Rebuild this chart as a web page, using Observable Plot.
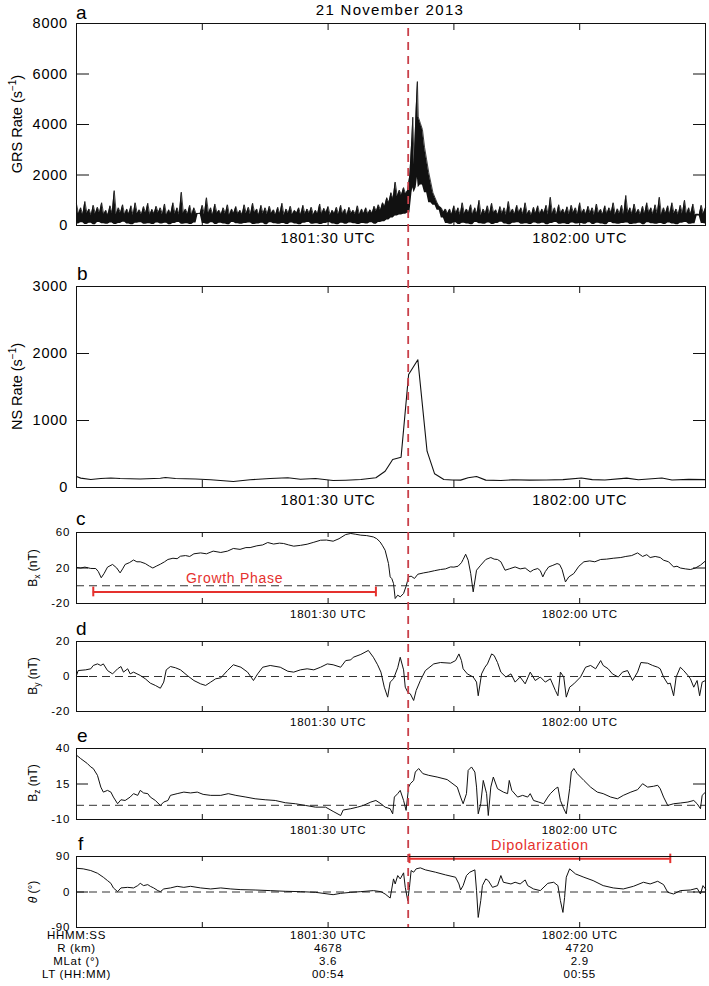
<!DOCTYPE html>
<html><head><meta charset="utf-8">
<script src="https://cdn.jsdelivr.net/npm/d3@7"></script>
<script src="https://cdn.jsdelivr.net/npm/@observablehq/plot@0.6"></script>
<style>
html,body{margin:0;padding:0;background:#fff;}
#fig{position:relative;width:709px;height:986px;overflow:hidden;background:#fff;}
#fig svg{position:absolute;left:0;overflow:visible;}
</style></head><body><div id="fig"></div>
<script>
// ---------- data (time in seconds after 18:01:00 UTC, 21 Nov 2013) ----------
const titleText = "21 November 2013";
const xTickMarks = [15, 30, 45, 60];
const xLabelTimes = [30, 60];
const xLabelTexts = ["1801:30 UTC", "1802:00 UTC"];
const onsetTime = 39.55;
const growthSpan = [2.0, 35.7];
const dipolSpan = [39.7, 70.8];

const grsTicks = [0, 2000, 4000, 6000, 8000];
const nsTicks = [0, 1000, 2000, 3000];
const bxTicks = [-20, 20, 60];
const byTicks = [-20, 0, 20];
const bzTicks = [-10, 15, 40];
const thTicks = [-90, 0, 90];

// GRS rate: spike tops every 0.5 s (t = i*0.5)
const grsHigh = [850,700,950,650,800,720,900,600,780,1380,
 700,820,650,780,900,620,750,880,640,760,
 700,850,620,900,700,1320,650,800,700,480,
 800,1100,700,850,600,700,820,650,750,600,
 820,720,880,650,800,700,760,620,720,880,
 650,760,600,700,800,650,720,600,850,680,
 750,600,720,800,650,720,600,780,650,700,
 620,760,820,900,1100,1300,1720,1400,1500,1400,
 3500,4600,4050,3100,2100,1300,900,700,650,650,
 780,700,900,650,820,700,1000,650,780,880,
 620,750,700,950,650,800,700,900,600,720,
 780,650,800,1120,700,820,650,740,800,700,
 900,650,760,700,850,640,780,700,900,660,
 800,1190,700,850,640,760,900,700,820,1120,
 700,780,900,650,800,1000,700,850,450,800,700];
// GRS rate: upper edge between spikes (t = i*0.5 + 0.25)
const grsTrough = [450,420,480,400,460,500,430,410,470,440,
 490,420,450,400,470,430,480,410,460,500,
 430,400,470,450,420,480,440,410,470,480,
 440,470,410,490,430,460,400,480,450,420,
 470,430,500,410,460,440,480,420,450,400,
 470,430,490,410,450,480,420,460,440,500,
 410,470,430,450,400,480,440,420,470,450,
 480,550,600,750,900,1050,1150,1200,1250,2000,
 2400,4300,3800,2600,1700,1100,750,520,470,430,
 480,410,460,500,420,450,400,470,440,490,
 420,460,410,480,440,500,430,450,400,470,
 440,490,420,460,410,480,450,430,500,420,
 460,440,480,410,470,430,450,490,420,460,
 400,480,440,470,420,450,500,430,460,410,
 480,440,470,420,460,430,450,420,430,460];
// GRS rate: lower edge of the trace (t = i*0.5)
const grsLow = [60,110,40,90,30,120,70,50,100,40,
 80,130,60,30,90,110,50,70,40,100,
 60,90,30,80,120,50,70,40,100,450,
 80,50,110,40,90,60,30,120,70,50,
 80,100,40,60,90,30,110,70,50,80,
 40,100,60,30,90,120,50,70,40,80,
 110,60,30,90,50,100,70,40,80,60,
 110,50,120,150,220,300,380,420,450,500,
 1300,1500,1600,1300,900,800,600,300,80,50,
 110,40,90,60,30,120,70,50,100,40,
 80,130,60,30,90,110,50,70,40,100,
 60,90,30,80,120,50,70,40,100,60,
 80,50,110,40,90,60,30,120,70,50,
 80,100,40,60,90,30,110,70,50,80,
 40,100,60,30,90,120,50,70,380,80,60];
// extra samples at the two burst maxima
const grsPeakTime = [40.1, 40.65];
const grsPeakHigh = [4290, 5700];
const grsPeakLow  = [1500, 1900];

// NS rate
const nsData = [[0,164],[0.5,140],[1.7,119],[2.9,134],[4.1,142],[5.2,134],[7.6,127],[10,139],[10.6,149],
 [11.8,134],[14.2,127],[16,115],[18.7,90],[20.7,115],[23.1,134],[25.2,145],[26.7,124],[28.5,134],
 [30.6,104],[32.1,109],[33.9,119],[35.7,145],[36.8,243],[37.7,418],[38.7,452],[39.6,1687],[40.7,1906],
 [41.8,542],[42.7,204],[43.8,120],[44.8,112],[45.8,110],[46.7,145],[47.7,164],[48.8,110],[50.6,104],
 [52,115],[54,110],[56,112],[58,118],[60.2,142],[61.5,118],[63,112],[65.6,140],[67,115],[69.8,142],
 [71,112],[73,122],[75,118]];

// Bx (nT)
const bxData = [[0,20.6],[0.5,20],[1,21],[1.7,19.5],[2.3,19.4],[2.6,16],[2.95,9],[3.3,14],[3.7,21],[4.3,24],
 [4.8,20],[5.2,14.5],[5.5,19],[5.8,24],[6.3,26],[6.8,29],[7.2,27],[7.6,27],[8.2,25],[8.7,22],[9.1,20],
 [9.5,22],[10,24.3],[10.5,27],[10.9,29.6],[11.5,31],[12,30.5],[12.4,33.3],[13,34],[13.5,33],[14,36],
 [14.8,37],[15.5,36],[16.3,39],[17.2,37.5],[18,39],[18.7,42],[19.5,41],[20.2,43],[20.7,43],[21.5,45],
 [22.2,46],[22.8,48.7],[23.5,47],[24.2,48],[24.7,47.6],[25.3,46],[25.9,44.6],[26.7,45.5],[27.5,46.8],
 [28.3,49],[29.1,51.3],[29.8,51.5],[30.6,50.2],[31.3,53],[32.1,57.7],[32.7,58.9],[33.3,58],[33.9,57],
 [34.6,56.5],[35.4,55],[35.8,53],[36.2,49.4],[36.5,45],[36.8,40],[37.2,25],[37.4,10],[37.6,8],[37.8,2.5],
 [38.0,-14.4],[38.3,-10.6],[38.6,-12.5],[39.0,-8.7],[39.3,-0.5],[39.6,10],[39.9,10.8],[40.3,8.2],[40.7,13],
 [41.4,14.5],[42,15.5],[42.7,17],[43.4,18.3],[44,19],[44.6,21.2],[45,21],[45.5,22],[45.9,26],[46.1,29.6],
 [46.4,35.5],[46.7,28.8],[47,14],[47.3,-6.9],[47.7,17.5],[48.2,23.2],[48.8,29.6],[49.4,31.8],[49.8,30],
 [50.2,29.6],[50.6,27],[51.1,17.5],[51.6,19],[52.3,21.2],[52.9,19],[53.5,20],[54.1,15.6],[54.5,18],
 [55.0,19.4],[55.3,17],[55.6,10],[55.9,16],[56.3,21.2],[56.8,23],[57.3,25],[57.6,24],[57.9,18.3],
 [58.3,4.3],[58.7,10],[59.3,13.8],[59.9,22],[60.5,27],[61.2,28],[61.8,27],[62.5,29.6],[63.2,30],[64,31],
 [64.9,31.8],[65.5,33],[66.2,34],[66.9,37],[67.5,33],[68,35],[68.4,31.8],[69,33],[69.6,31.8],[70,28.8],
 [70.6,27],[71.2,21.2],[71.6,22],[72,20],[72.6,19],[73.2,18.3],[73.8,20],[74.4,23.2],[75,28]];

// By (nT)
const byData = [[0,0.6],[0.2,3.4],[1.1,3.8],[1.7,4.4],[2,6.3],[2.5,7.2],[2.9,6.3],[3.2,7.2],[3.7,3.4],[4.3,1.5],
 [4.9,4.4],[5.3,5.7],[5.6,2.5],[6.1,4.4],[6.4,1.5],[6.8,2.5],[7.6,0.6],[8.2,-1.3],[8.8,-3.8],[9.4,-5.1],
 [10,-6.7],[10.4,-3.2],[10.7,3.8],[11.2,5.7],[11.8,5],[12.4,3.8],[13.2,0.6],[14,-2.3],[14.8,-4.2],[15.4,-5.1],
 [16,-3.2],[16.6,-1.3],[17.2,-0.8],[18,3.4],[18.7,6.7],[19.6,5.3],[20.4,2.5],[21.1,-2.3],[21.6,1.5],[22.2,5.3],
 [23.1,6.3],[24.3,5.3],[25.2,3],[25.9,2.5],[26.7,3.8],[27.5,4.4],[28.3,3.8],[29.1,5.3],[29.9,7.2],[30.6,6.7],
 [31.5,5.3],[32.1,9.1],[32.7,9.5],[33,11],[33.9,12.6],[34.8,14.9],[35.4,11],[35.9,6.7],[36.3,2.5],[36.7,-6.1],
 [37.1,-11.8],[37.4,-3.2],[37.8,-1.3],[38.3,5],[38.6,11],[39,3.8],[39.2,-6.1],[39.5,-9],[39.8,-9.9],[40.2,-13.7],
 [40.5,-8],[41,-2.3],[41.6,3.4],[42.6,7.2],[43.4,8],[44.6,7.6],[45.2,9.1],[45.6,12.9],[45.9,9.1],[46.1,4.4],
 [46.6,1.5],[47.3,-0.3],[47.7,-3.2],[47.9,-11],[48.3,1.5],[48.7,5.3],[49,7.2],[49.5,12.9],[49.8,12],[50.2,8],
 [50.6,2.5],[51.2,-0.3],[51.8,1.5],[52.3,-3.2],[52.9,-0.3],[53.5,-4.2],[54.1,2.5],[54.7,-2.3],[55.3,-0.3],
 [55.9,-3.2],[56.5,-1.3],[57.1,-8],[57.4,-11],[57.7,2.5],[58.1,-0.3],[58.4,-11.8],[58.8,-6.1],[59.3,-4.2],
 [60.1,-0.3],[60.7,5.3],[61.3,6.3],[61.9,4.4],[62.5,9.1],[62.8,6.3],[63.4,4.4],[63.9,1.5],[64.6,-0.3],
 [65.1,2.5],[65.7,3.4],[66.3,-2.3],[66.9,2.5],[67.3,8],[68.1,7.6],[68.7,6.3],[69.3,5.3],[69.6,4.4],[70,-0.3],
 [70.5,-4.2],[70.8,-3.8],[71.2,-11],[71.5,-0.3],[72,5.3],[72.4,3.4],[72.9,0.6],[73.2,-1.3],[73.6,-6.1],
 [74,-2.3],[74.3,-11],[74.6,-3.2],[75,-2.3]];

// Bz (nT)
const bzData = [[0,35.3],[0.5,32.9],[1.3,29.4],[1.7,27],[2,25.9],[2.5,21.1],[2.9,12.8],[3.2,9.3],[3.7,10.5],
 [4.1,9.3],[4.4,5.8],[4.9,1.1],[5.3,3.9],[5.8,3.4],[6.4,5.8],[6.8,8.2],[7.3,7],[7.6,10.5],[8,8.7],[8.5,8.2],
 [8.8,5.8],[9.4,3.4],[10,-0.1],[10.4,2.3],[10.9,3.4],[11.2,7],[12,8.2],[12.8,9.3],[13.6,8.7],[14.4,9.3],
 [15.1,7.7],[16,7],[17.2,7],[18.1,8.2],[19,7],[20.2,5.8],[21.3,4.6],[22.5,3.9],[23.7,3.4],[24.9,1.8],
 [26.1,1.1],[27.3,-0.1],[28.5,-1.3],[29.7,-1.3],[30.6,-4.3],[31.5,-7.2],[31.8,-3.3],[32.7,-2.4],[33.5,-1.3],
 [34.2,-0.1],[35.1,2.3],[35.7,3.4],[36.3,1.1],[36.8,-1.3],[37.4,-2.4],[37.7,-6],[37.9,5.8],[38.3,8.2],
 [38.6,10.5],[39,3.4],[39.3,-3.6],[39.6,12.8],[39.8,15.2],[40.2,17.5],[40.4,23.4],[40.8,25.9],[41.3,22.3],
 [42,21.1],[43,19.9],[44.2,18.1],[45.4,12.8],[45.8,5.8],[46.1,1.1],[46.5,8.2],[46.7,24.6],[47.1,27],
 [47.5,23.4],[47.7,12.8],[47.9,-6],[48.2,1.1],[48.5,17.5],[48.9,8.2],[49.1,-7.2],[49.4,12.8],[49.7,19.9],
 [50.2,11.7],[50.9,9.3],[51.4,8.2],[51.6,17.5],[51.9,10.5],[52.6,5.8],[53.2,7],[53.8,5.8],[54.1,8.2],
 [54.5,3.4],[55.1,2.3],[55.7,1.1],[56.2,5.8],[56.5,8.2],[57.1,11.7],[57.4,12.8],[57.7,3.4],[58.1,-2.4],
 [58.4,-6],[58.8,11.7],[59,23.4],[59.3,25.9],[59.7,22.3],[60.5,17.5],[61.3,12.8],[62.1,9.3],[62.8,8.2],
 [63.7,5.8],[64.5,4.6],[65.2,7],[66.1,9.3],[66.9,11],[67.5,15.2],[68.1,12.8],[68.8,13.4],[69.3,14.1],
 [69.6,11.7],[70,5.8],[70.5,-0.1],[71.2,1.1],[72,1.6],[72.9,2.3],[73.6,3.4],[74,1.1],[74.4,-2.4],[74.6,7],[75,9.3]];

// theta (deg)
const thData = [[0,60.2],[0.8,58.7],[1.7,54.4],[2.5,47.6],[3.2,37.4],[3.7,28.9],[4.1,22],[4.4,10.3],[4.9,0.9],
 [5.3,10.3],[6.1,11.8],[6.8,10.3],[7.3,16.2],[7.6,22],[8,16.2],[8.5,18.7],[8.8,14.4],[9.2,10.3],[9.7,3.5],
 [10,0.9],[10.4,7.7],[11.2,10.3],[12,14.4],[12.8,11.8],[13.6,14.4],[14.8,10.3],[16,7.7],[17.2,10.3],[18.4,7.7],
 [19.6,6],[21.3,5.1],[23.1,3.5],[24.9,1.8],[26.7,0.9],[28.5,-0.8],[30.6,-6.8],[31.5,-3.4],[32.7,-0.8],
 [33.9,0.9],[35.4,3.5],[36.3,0.9],[36.8,-5.1],[37.4,-15.3],[37.8,33.2],[38,20.4],[38.3,41.7],[38.6,33.2],
 [39,48.6],[39.2,11.8],[39.5,-22],[39.7,11.8],[39.9,54.4],[40.2,50.2],[40.5,58.7],[41,61.2],[41.6,56.1],
 [42.8,50.2],[44,43.4],[45.2,37.4],[45.6,20.4],[45.8,5.1],[46.1,16.2],[46.5,41.7],[46.9,50.2],[47.5,56.1],
 [47.7,3.5],[47.9,-64.5],[48.2,-22],[48.4,16.2],[48.8,33.2],[49.1,28.9],[49.6,11.8],[50.2,16.2],[50.6,41.7],
 [50.9,24.7],[51.8,20.4],[52.3,24.7],[52.9,20.4],[53.5,30.6],[53.8,16.2],[54.5,7.7],[55.3,3.5],[56.2,22],
 [56.9,24.7],[57.4,16.2],[57.7,-22],[58,-51.8],[58.2,-13.6],[58.4,37.4],[58.8,58.7],[59.5,45.9],[60.5,37.4],
 [61.6,28.9],[62.8,16.2],[64,10.3],[65.2,7.7],[66.4,14.4],[67.6,24.7],[68.4,20.4],[69.3,27.2],[70,18.7],
 [70.5,-0.8],[71.2,-5.1],[72,3.5],[73.2,5.1],[74,9.4],[74.4,-5.1],[74.7,16.2],[75,7.7]];

// ephemeris table under the last panel
const tableRowLabels = ["HHMM:SS", "R (km)", "MLat (°)", "LT (HH:MM)"];
const tableCol1 = ["1801:30 UTC", "4678", "3.6", "00:54"];
const tableCol2 = ["1802:00 UTC", "4720", "2.9", "00:55"];

// ---------- drawing ----------
const FONT = '"Liberation Sans", Arial, Helvetica, sans-serif';
const RED = "#e5312e";
const INK = "#111";
const fig = document.getElementById("fig");
const W = 709, ML = 76, MR = 4, PW = W - ML - MR;

// assemble GRS samples (spike tops, troughs between them, burst maxima)
const grsRows = [];
grsHigh.forEach((v, i) => grsRows.push({t: i * 0.5, hi: v, lo: grsLow[i]}));
grsTrough.forEach((v, i) => grsRows.push({t: i * 0.5 + 0.25, hi: v, lo: grsLow[i]}));
grsPeakTime.forEach((t, i) => grsRows.push({t, hi: grsPeakHigh[i], lo: grsPeakLow[i]}));
grsRows.sort((a, b) => a.t - b.t);

function panel(o) {
  const mt = o.mt, mb = o.mb;
  const marks = [
    ...o.marks,
    Plot.frame({stroke: INK, strokeWidth: 1}),
    Plot.tickX(xTickMarks, {x: d => d, insetBottom: o.h - o.xt, stroke: INK}),
    Plot.tickX(xTickMarks, {x: d => d, insetTop: o.h - o.xt, stroke: INK}),
    Plot.tickY(o.tickMarks, {y: d => d, insetRight: PW - o.ytL, stroke: INK}),
    Plot.tickY(o.tickMarks, {y: d => d, insetLeft: PW - o.ytR, stroke: INK})
  ];
  const svg = Plot.plot({
    width: W, height: mt + o.h + mb,
    marginLeft: ML, marginRight: MR, marginTop: mt, marginBottom: mb,
    style: {fontFamily: FONT, fontSize: o.fs + "px", letterSpacing: o.ls + "px",
            background: "transparent", overflow: "visible", color: "#000"},
    x: {domain: [0, 75], ticks: xLabelTimes, tickSize: 0, tickPadding: o.padX,
        tickFormat: d => xLabelTexts[xLabelTimes.indexOf(d)], label: null,
        axis: o.xAxis === false ? null : "bottom"},
    y: {domain: o.ydom, ticks: o.yTicks, tickSize: 0, tickPadding: o.padY,
        tickFormat: d => String(d), label: null},
    marks
  });
  svg.style.top = (o.top - mt) + "px";
  fig.appendChild(svg);
  return svg;
}
const zeroLine = () => Plot.ruleY([0], {stroke: "#333", strokeWidth: 1, strokeDasharray: "8,5"});

// a: GRS rate
panel({top: 23, h: 202, mt: 23, mb: 30, ydom: [0, 8000], yTicks: grsTicks, tickMarks: [2000, 4000, 6000],
  fs: 14.5, ls: 0.8, padX: 7.5, padY: 8.5, xt: 7, ytL: 13, ytR: 12,
  marks: [
    Plot.areaY(grsRows, {x: "t", y1: "lo", y2: "hi", fill: INK}),
    Plot.lineY(grsRows, {x: "t", y: "hi", stroke: INK, strokeWidth: 0.8})
  ]});

// b: NS rate
panel({top: 286, h: 201, mt: 20, mb: 30, ydom: [0, 3000], yTicks: nsTicks, tickMarks: [1000, 2000],
  fs: 14.5, ls: 0.8, padX: 7.5, padY: 8.5, xt: 7, ytL: 13, ytR: 12,
  marks: [Plot.line(nsData, {x: d => d[0], y: d => d[1], stroke: INK, strokeWidth: 1.1})]});

// c: Bx
panel({top: 532, h: 71, mt: 20, mb: 30, ydom: [-20, 60], yTicks: bxTicks, tickMarks: [20],
  fs: 11.5, ls: 0.7, padX: 6.3, padY: 6.5, xt: 5, ytL: 12, ytR: 12,
  marks: [
    zeroLine(),
    Plot.line(bxData, {x: d => d[0], y: d => d[1], stroke: INK, strokeWidth: 1}),
    Plot.ruleY([growthSpan], {x1: d => d[0], x2: d => d[1], y: () => -7, stroke: RED, strokeWidth: 2}),
    Plot.ruleX(growthSpan, {x: d => d, y1: () => -12.5, y2: () => -1.5, stroke: RED, strokeWidth: 2}),
    Plot.text(["Growth Phase"], {x: () => (growthSpan[0] + growthSpan[1]) / 2, y: () => 8,
      fill: RED, fontSize: 14, text: d => d})
  ]});

// d: By
panel({top: 641, h: 70, mt: 20, mb: 30, ydom: [-20, 20], yTicks: byTicks, tickMarks: [0],
  fs: 11.5, ls: 0.7, padX: 6.3, padY: 6.5, xt: 5, ytL: 12, ytR: 12,
  marks: [zeroLine(), Plot.line(byData, {x: d => d[0], y: d => d[1], stroke: INK, strokeWidth: 1})]});

// e: Bz
panel({top: 748, h: 71, mt: 20, mb: 30, ydom: [-10, 40], yTicks: bzTicks, tickMarks: [15],
  fs: 11.5, ls: 0.7, padX: 6.3, padY: 6.5, xt: 5, ytL: 12, ytR: 12,
  marks: [zeroLine(), Plot.line(bzData, {x: d => d[0], y: d => d[1], stroke: INK, strokeWidth: 1})]});

// f: theta + ephemeris table
const tableMarks = [];
[tableRowLabels, tableCol1, tableCol2].forEach((col, ci) => {
  const xpos = [0, xLabelTimes[0], xLabelTimes[1]][ci];
  col.forEach((txt, ri) => {
    tableMarks.push(Plot.text([txt], {x: () => xpos, frameAnchor: "bottom", dy: 11 + ri * 13.1, text: d => d, fill: "#000"}));
  });
});
panel({top: 856, h: 71, mt: 30, mb: 59, ydom: [-90, 90], yTicks: thTicks, tickMarks: [0], xAxis: false,
  fs: 11.5, ls: 0.7, padX: 6.3, padY: 6.5, xt: 5, ytL: 12, ytR: 12,
  marks: [
    zeroLine(),
    Plot.line(thData, {x: d => d[0], y: d => d[1], stroke: INK, strokeWidth: 1}),
    Plot.ruleY([dipolSpan], {x1: d => d[0], x2: d => d[1], y: () => 84, stroke: RED, strokeWidth: 2}),
    Plot.ruleX(dipolSpan, {x: d => d, y1: () => 72, y2: () => 96, stroke: RED, strokeWidth: 2}),
    Plot.text(["Dipolarization"], {x: () => (dipolSpan[0] + dipolSpan[1]) / 2, y: () => 119,
      fill: RED, fontSize: 14.5, text: d => d}),
    ...tableMarks
  ]});

// onset line through all panels
const onset = Plot.plot({
  width: W, height: 986, marginLeft: ML, marginRight: MR, marginTop: 28, marginBottom: 986 - 927,
  x: {domain: [0, 75], axis: null},
  style: {background: "transparent", overflow: "visible"},
  marks: [Plot.ruleX([onsetTime], {stroke: "#c9404a", strokeWidth: 1.8, strokeDasharray: "8,6"})]
});
onset.style.top = "0px";
onset.style.pointerEvents = "none";
fig.appendChild(onset);

// titles, panel letters, axis labels
const ov = d3.select(fig).append("svg").attr("width", W).attr("height", 986)
  .style("top", "0px").style("pointer-events", "none")
  .attr("font-family", FONT).attr("fill", "#000");
ov.append("text").attr("x", 390).attr("y", 15).attr("text-anchor", "middle")
  .attr("font-size", 15).attr("letter-spacing", "1.3px").text(titleText);
const panelLetters = [["a", 76, 18.5], ["b", 77, 280], ["c", 76, 525], ["d", 76, 635], ["e", 77, 741.5], ["f", 78, 850]];
panelLetters.forEach(([l, x, y]) => ov.append("text").attr("x", x).attr("y", y).attr("font-size", 19).text(l));

function ylabel(cx, cy, fs, parts) {
  const t = ov.append("text").attr("transform", `translate(${cx},${cy}) rotate(-90)`)
    .attr("text-anchor", "middle").attr("font-size", fs);
  let cur = 0;
  parts.forEach(p => {
    const s = p.shift || 0;
    const ts = t.append("tspan").attr("dy", s - cur).text(p.t);
    cur = s;
    if (p.small) ts.attr("font-size", p.small);
    if (p.italic) ts.attr("font-style", "italic");
  });
}
ylabel(21.5, 124, 14.5, [{t: "GRS Rate (s"}, {t: "−1", shift: -6, small: 10}, {t: ")", shift: 0}]);
ylabel(21.5, 386.5, 14.5, [{t: "NS Rate (s"}, {t: "−1", shift: -6, small: 10}, {t: ")", shift: 0}]);
ylabel(37, 568, 12, [{t: "B"}, {t: "x", shift: 3, small: 8.5}, {t: " (nT)", shift: 0}]);
ylabel(37, 676, 12, [{t: "B"}, {t: "y", shift: 3, small: 8.5}, {t: " (nT)", shift: 0}]);
ylabel(37, 783, 12, [{t: "B"}, {t: "z", shift: 3, small: 8.5}, {t: " (nT)", shift: 0}]);
ylabel(37, 892, 12, [{t: "θ", italic: true}, {t: " (°)"}]);
</script></body></html>
